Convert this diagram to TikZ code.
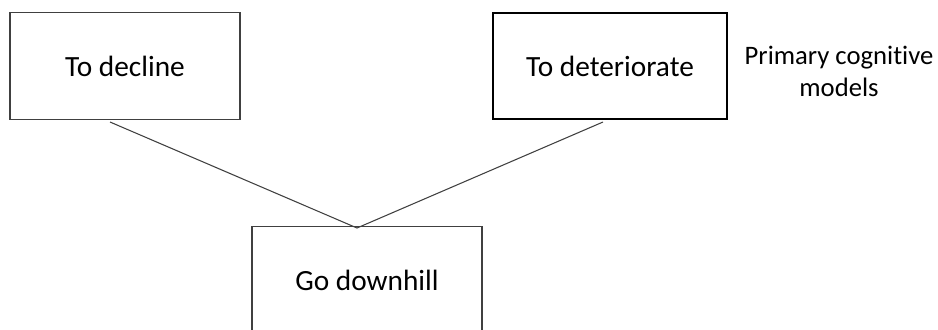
\documentclass[tikz,border=0pt]{standalone}
\usepackage{fontspec}
\setmainfont{Carlito}[Ligatures=NoCommon]
\usetikzlibrary{positioning}
\tikzset{wordbox/.style={draw=black!75,line width=.9pt,minimum width=172.5pt,minimum height=80pt,inner sep=0pt,font=\fontsize{22}{26}\selectfont}}

\begin{document}
\begin{tikzpicture}[x=.75pt,y=-.75pt]
\useasboundingbox(0,0)rectangle(938,329);
\node[wordbox](decline)at(125,66){To decline};\node[wordbox,draw=black,line width=1.6pt,minimum width=175.5pt](deteriorate)at(610,66){To deteriorate};
\node[wordbox](downhill)at(367,280){Go downhill};
\node[align=center,font=\fontsize{20}{24}\selectfont](primary)at(839,71){Primary cognitive\\models};
\coordinate(apex)at(357,228);\coordinate(l)at(110,122);\coordinate(r)at(603,122);
\draw[black!75,line width=.8pt](l)--(apex)--(r);
\end{tikzpicture}
\end{document}
